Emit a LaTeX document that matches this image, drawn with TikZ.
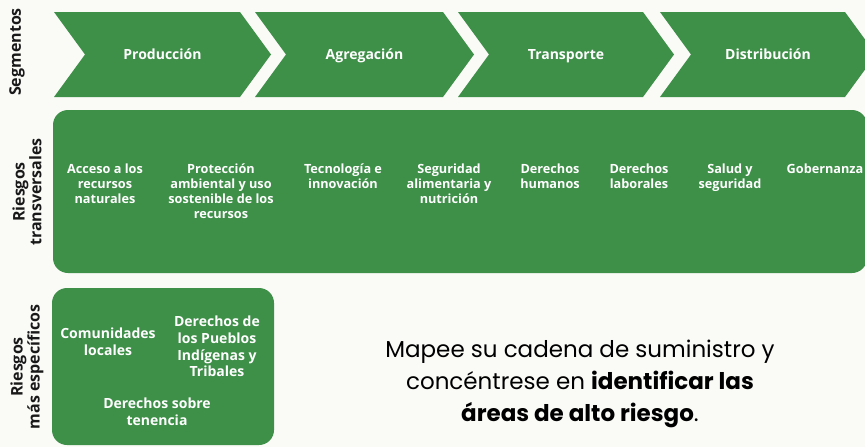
\documentclass[tikz,border=0pt]{standalone}
\usepackage{fontspec}
\usepackage{tikz}
\usetikzlibrary{positioning}
\newfontfamily\boxfont{Open Sans}
\newfontfamily\popfont{Poppins}
\definecolor{segGreen}{HTML}{3E8F48}
\definecolor{bgWhite}{HTML}{FAFAF7}
\definecolor{mainBlack}{gray}{0.1}

\begin{document}
\begin{tikzpicture}[x=1pt, y=-1pt,
    lbl/.style={text=white, font=\boxfont\bfseries\fontsize{12.7}{15}\selectfont, align=center, inner sep=0pt},
    biglbl/.style={lbl, font=\boxfont\bfseries\fontsize{14}{16.7}\selectfont},
    side/.style={rotate=90, text=mainBlack, font=\boxfont\bfseries\fontsize{16}{17}\selectfont, align=center, inner sep=0pt}]
    \useasboundingbox[fill=bgWhite] (0,0) rectangle (865,447);
    \clip (0,0) rectangle (865,447);

    % segmentos
    \foreach \L/\R/\nm/\txt in {54/240/prod/Producción, 255/443/agre/Agregación,
                                458/643/trans/Transporte, 660/845/dist/Distribución} {
        \fill[segGreen] (\L,12) -- (\R,12) -- (\R+31,54.5) -- (\R,97) -- (\L,97) -- (\L+31,54.5) -- cycle;
        \node[biglbl, anchor=base] (seg-\nm) at ({(\L+\R)/2+15.5}, 59) {\txt};
    }
    \node[side] (segmentos) at (17, 52) {Segmentos};

    % riesgos transversales
    \fill[segGreen, rounded corners=15pt] (53,110) rectangle (867,273);
    \node[side] (transv) at (27, 192) {Riesgos\\transversales};
    \foreach \x/\nm/\txt in {105/acceso/{Acceso a los\\recursos\\naturales},
                             221/proteccion/{Protección\\ambiental y uso\\sostenible de los\\recursos},
                             343/tecno/{Tecnología e\\innovación},
                             449/segal/{Seguridad\\alimentaria y\\nutrición},
                             550/ddhh/{Derechos\\humanos},
                             639/laborales/{Derechos\\laborales},
                             730/salud/{Salud y\\seguridad},
                             825/gober/{Gobernanza}} {
        \node[lbl, anchor=north] (tr-\nm) at (\x, 164) {\txt};
    }

    % riesgos mas especificos
    \fill[segGreen, rounded corners=15pt] (52,288) rectangle (274,445);
    \node[side] (especif) at (27, 367) {Riesgos\\más específicos};
    \node[biglbl, anchor=north] (comunidades) at (108, 328) {Comunidades\\locales};
    \node[biglbl, anchor=north] (pueblos) at (217, 316) {Derechos de\\los Pueblos\\Indígenas y\\Tribales};
    \node[biglbl, anchor=north] (tenencia) at (157, 398) {Derechos sobre\\tenencia};

    \node[align=center, text=black, font=\popfont\fontsize{23}{32}\selectfont] (mapee) at (580, 384)
        {Mapee su cadena de suministro y\\concéntrese en \textbf{identificar las}\\\textbf{áreas de alto riesgo}.};
\end{tikzpicture}
\end{document}
